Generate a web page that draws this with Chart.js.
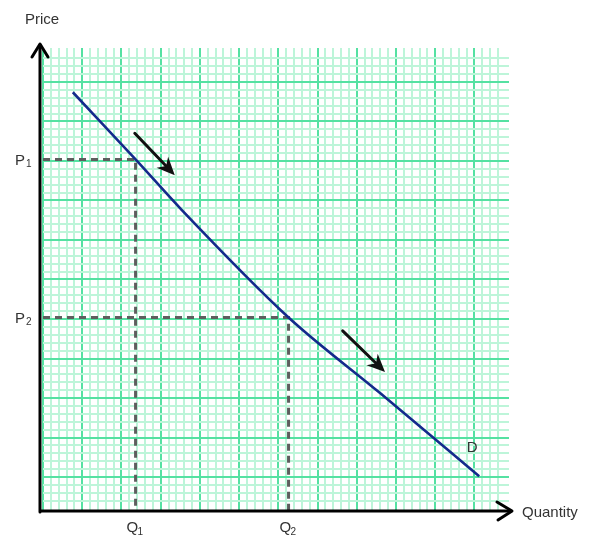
<!DOCTYPE html>
<html>
<head>
<meta charset="utf-8">
<script src="https://cdn.jsdelivr.net/npm/chart.js@4/dist/chart.umd.min.js"></script>
<style>
  body { margin: 0; background: #fff; }
  #wrap { width: 614px; height: 544px; position: relative; }
</style>
</head>
<body>
<div id="wrap"><canvas id="demandChart"></canvas></div>
<script>
// axis ranges (grid units, 5 small squares per big square)
const xMin = 0, xMax = 59.4;
const yMin = -4.3, yMax = 54.3;

// demand curve
const demandQ = [3.8, 11.8, 17.5, 31.3, 43.0, 55.6];
const demandP = [48.7, 40.2, 34.0, 20.2, 10.6, 0.1];

// price / quantity levels for the dashed guides
const qLevels = [11.8, 31.3];
const pLevels = [40.2, 20.2];
const levelTags = ['1', '2'];

// movement arrows along the curve: [q, p] start and end
const shiftFrom = [[11.7, 43.5], [38.2, 18.5]];
const shiftTo = [[16.8, 38.2], [43.6, 13.3]];

const FONT = 'Arial, "Liberation Sans", sans-serif';
const TEXT = '#333333';

function gridColor(ctx) {
    const v = ctx.tick.value;
    const r = Math.round(v);
    if (Math.abs(v - r) > 1e-6) return 'rgba(0,0,0,0)';
    return r % 5 === 0 ? '#55e1a2' : '#bdf5d9';
}
function gridWidth(ctx) {
    const r = Math.round(ctx.tick.value);
    return r % 5 === 0 ? 2 : 2;
}

const demandData = demandQ.map((q, i) => ({ x: q, y: demandP[i] }));

const guideSets = qLevels.map((q, i) => ({
    data: [{ x: xMin, y: pLevels[i] }, { x: q, y: pLevels[i] }, { x: q, y: yMin }],
    showLine: true,
    borderColor: '#5e5e5e',
    borderWidth: 3,
    borderDash: [7, 5],
    pointRadius: 0,
    tension: 0
}));

function drawArrowHead(ctx, x1, y1, x2, y2, len, half) {
    const a = Math.atan2(y2 - y1, x2 - x1);
    ctx.beginPath();
    ctx.moveTo(x2, y2);
    ctx.lineTo(x2 - len * Math.cos(a) + half * Math.sin(a), y2 - len * Math.sin(a) - half * Math.cos(a));
    ctx.lineTo(x2 - len * 0.7 * Math.cos(a), y2 - len * 0.7 * Math.sin(a));
    ctx.lineTo(x2 - len * Math.cos(a) - half * Math.sin(a), y2 - len * Math.sin(a) + half * Math.cos(a));
    ctx.closePath();
    ctx.fill();
}

const decorations = {
    id: 'decorations',
    afterDatasetsDraw(chart) {
        const ctx = chart.ctx;
        const area = chart.chartArea;
        const xs = chart.scales.x, ys = chart.scales.y;
        ctx.save();

        // shift arrows
        ctx.strokeStyle = '#111';
        ctx.fillStyle = '#111';
        ctx.lineWidth = 3;
        ctx.lineCap = 'round';
        shiftFrom.forEach((f, i) => {
            const x1 = xs.getPixelForValue(f[0]), y1 = ys.getPixelForValue(f[1]);
            const x2 = xs.getPixelForValue(shiftTo[i][0]), y2 = ys.getPixelForValue(shiftTo[i][1]);
            ctx.beginPath();
            ctx.moveTo(x1, y1);
            ctx.lineTo(x2 - (x2 - x1) * 0.2, y2 - (y2 - y1) * 0.2);
            ctx.stroke();
            drawArrowHead(ctx, x1, y1, x2, y2, 18, 8);
        });

        // axes with open arrow tips
        const ax = area.left - 3;
        const ay = area.bottom;
        ctx.strokeStyle = '#000';
        ctx.lineWidth = 3;
        ctx.lineJoin = 'round';
        ctx.beginPath();
        ctx.moveTo(ax, ay + 1);
        ctx.lineTo(ax, area.top - 3);
        ctx.moveTo(ax, ay);
        ctx.lineTo(area.right + 2, ay);
        ctx.stroke();
        ctx.beginPath();
        ctx.moveTo(ax - 8, area.top + 9);
        ctx.lineTo(ax, area.top - 4);
        ctx.lineTo(ax + 8, area.top + 9);
        ctx.moveTo(area.right - 12, ay - 9);
        ctx.lineTo(area.right + 3, ay);
        ctx.lineTo(area.right - 11, ay + 9);
        ctx.stroke();

        // labels
        ctx.fillStyle = TEXT;
        ctx.textBaseline = 'middle';
        ctx.font = '15px ' + FONT;
        ctx.textAlign = 'left';
        ctx.fillText('Price', area.left - 18, area.top - 28);
        ctx.fillText('Quantity', area.right + 13, ay + 2);
        ctx.fillText('D', xs.getPixelForValue(54.0), ys.getPixelForValue(3.7));

        pLevels.forEach((p, i) => {
            const py = ys.getPixelForValue(p);
            ctx.font = '15px ' + FONT;
            ctx.textAlign = 'left';
            ctx.fillText('P', area.left - 28, py + 1);
            ctx.font = '10px ' + FONT;
            ctx.fillText(levelTags[i], area.left - 17, py + 5);
        });
        qLevels.forEach((q, i) => {
            const px = xs.getPixelForValue(q);
            ctx.font = '15px ' + FONT;
            ctx.textAlign = 'left';
            ctx.fillText('Q', px - 9, ay + 17);
            ctx.font = '10px ' + FONT;
            ctx.fillText(levelTags[i], px + 2, ay + 21);
        });
        ctx.restore();
    }
};

new Chart(document.getElementById('demandChart'), {
    type: 'scatter',
    data: {
        datasets: [{
            data: demandData,
            showLine: true,
            borderColor: '#142a8c',
            borderWidth: 2.6,
            pointRadius: 0,
            cubicInterpolationMode: 'monotone'
        }].concat(guideSets)
    },
    options: {
        responsive: true,
        maintainAspectRatio: false,
        animation: false,
        devicePixelRatio: 1,
        layout: { padding: { left: 43, top: 48, right: 105, bottom: 33 } },
        plugins: { legend: { display: false }, tooltip: { enabled: false } },
        scales: {
            x: {
                type: 'linear', min: xMin, max: xMax,
                ticks: { display: false, stepSize: 1 },
                border: { display: false },
                grid: { color: gridColor, lineWidth: gridWidth, drawTicks: false }
            },
            y: {
                type: 'linear', min: yMin, max: yMax,
                ticks: { display: false, stepSize: 1 },
                border: { display: false },
                grid: { color: gridColor, lineWidth: gridWidth, drawTicks: false }
            }
        }
    },
    plugins: [decorations]
});
</script>
</body>
</html>
